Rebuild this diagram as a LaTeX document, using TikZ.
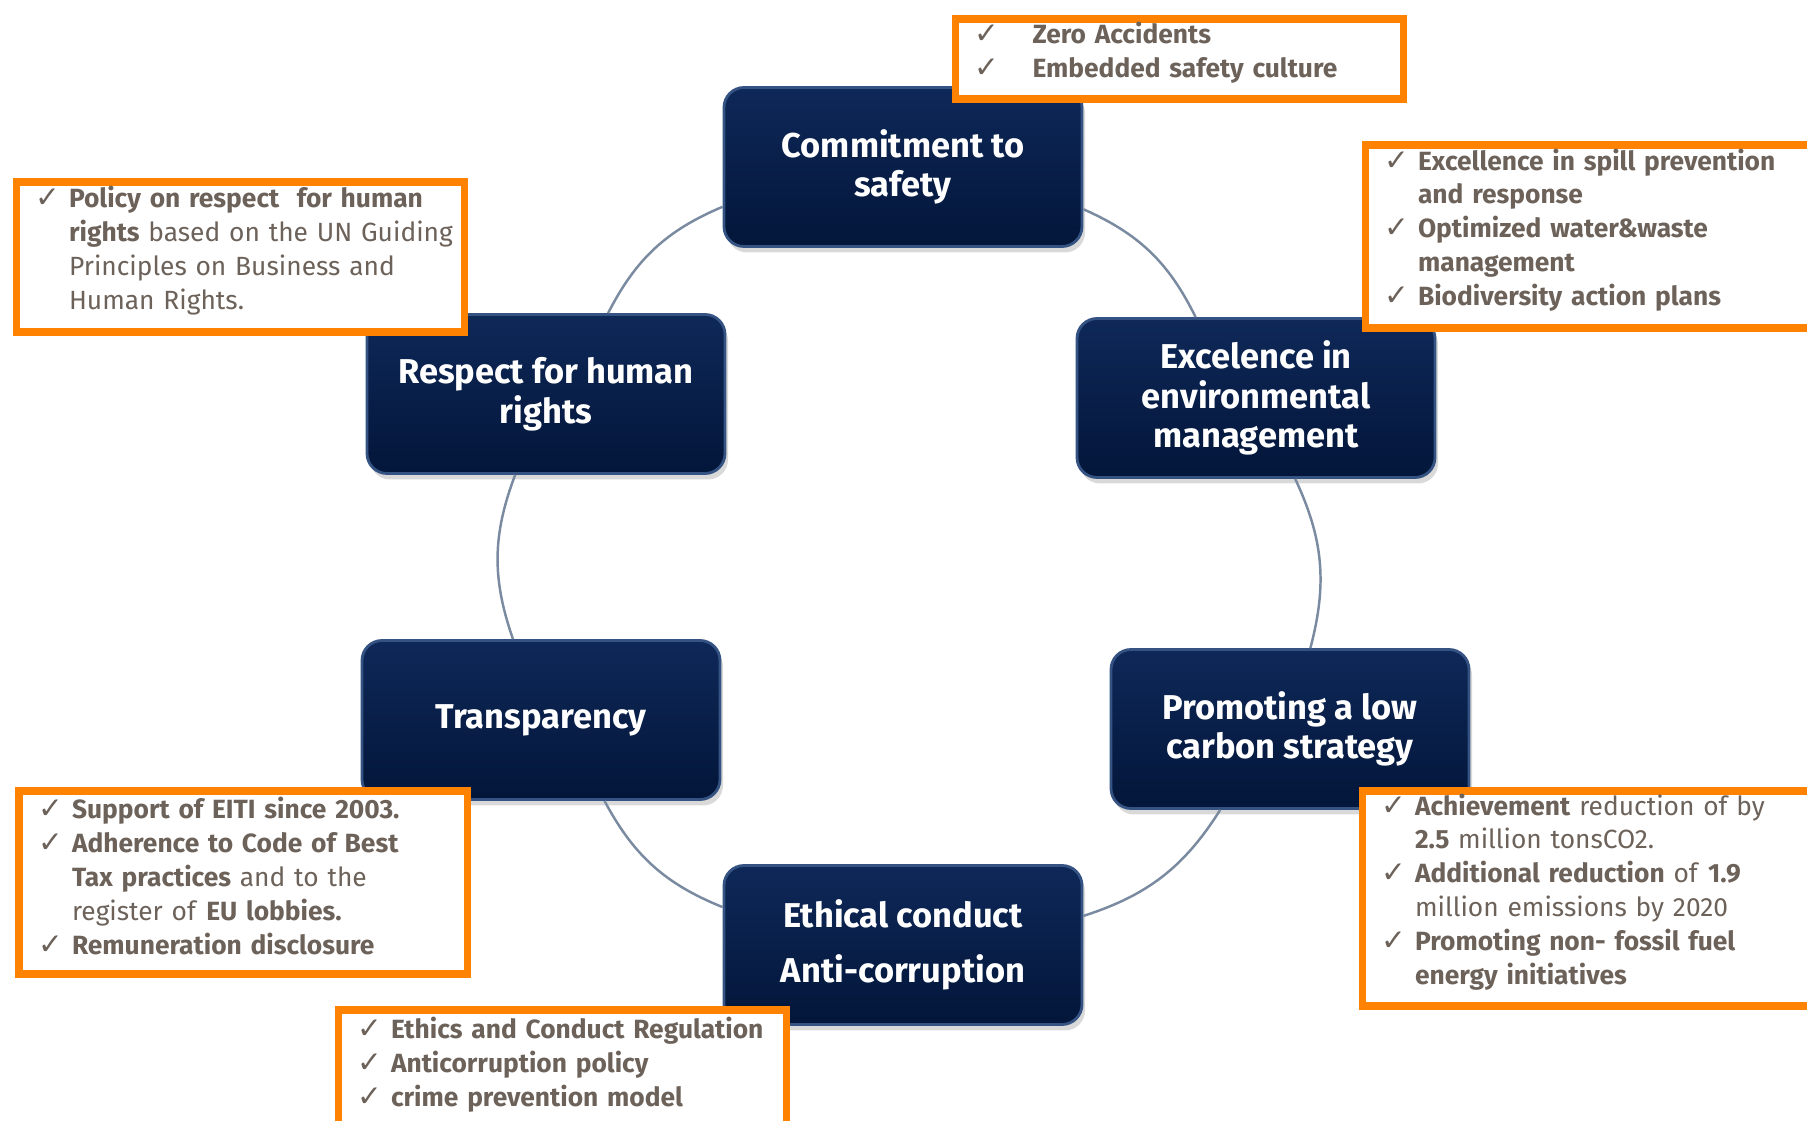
\documentclass[tikz,border=0pt]{standalone}
\usepackage{fontspec}
\setmainfont{Fira Sans}
\newfontfamily\checkfont{DejaVu Sans}
\usetikzlibrary{shadows}

\definecolor{pillarnavy}{RGB}{3,22,58}
\definecolor{pillartop}{RGB}{14,40,88}
\definecolor{pillaredge}{RGB}{52,82,130}
\definecolor{ringgray}{RGB}{122,138,160}
\definecolor{noteorange}{RGB}{255,130,0}
\definecolor{notetext}{RGB}{108,98,90}

% one line of a note, with or without a tick in front
\newcommand{\tickline}[2][0.335cm]{\noindent\mbox{\makebox[#1][l]{\checkfont\fontsize{8.4}{9.64}\selectfont ✓}#2}\par}
\newcommand{\moreline}[2][0.335cm]{\noindent\mbox{\hspace*{#1}#2}\par}

\tikzset{
  pillar/.style={rectangle, rounded corners=0.2cm, minimum width=3.58cm, minimum height=1.59cm,
    top color=pillartop, bottom color=pillarnavy, draw=pillaredge, line width=0.8pt,
    text=white, align=center, font=\fontsize{9.8}{11.3}\selectfont\bfseries,
    drop shadow={opacity=0.3, shadow xshift=0.03cm, shadow yshift=-0.06cm}},
  notes/.style={rectangle, draw=noteorange, line width=2pt, fill=white, anchor=north west,
    text width=4.09cm, inner xsep=0.195cm, inner ysep=0pt,
    text=notetext, font=\fontsize{7.5}{9.64}\selectfont, align=left,
    execute at end node={\vspace{0.13cm}}},
  ring/.style={ringgray, line width=0.7pt, bend left=20}
}

\begin{document}
\begin{tikzpicture}
\useasboundingbox (0,0) rectangle (18.07,-11.21);
% the six pillars
\node[pillar] (safety) at (9.03,-1.67) {Commitment to\\safety};
\node[pillar] (environment) at (12.56,-3.98) {Excelence in\\environmental\\management};
\node[pillar] (carbon) at (12.90,-7.29) {Promoting a low\\carbon strategy};
\node[pillar] (ethics) at (9.03,-9.45) {Ethical conduct\\[0.16cm]Anti-corruption};
\node[pillar] (transparency) at (5.41,-7.20) {Transparency};
\node[pillar] (rights) at (5.46,-3.94) {Respect for human\\rights};
% ring
\draw[ring] (safety) to (environment);
\draw[ring] (environment) to (carbon);
\draw[ring] (carbon) to (ethics);
\draw[ring] (ethics) to (transparency);
\draw[ring] (transparency) to (rights);
\draw[ring] (rights) to (safety);
% notes
\node[notes, minimum height=0.80cm] (safetynotes) at (9.515,-0.155) {%
  \tickline[0.58cm]{\textbf{Zero Accidents}}
  \tickline[0.58cm]{\textbf{Embedded safety culture}}};
\node[notes, minimum height=1.83cm] (envnotes) at (13.615,-1.415) {%
  \tickline{\textbf{Excellence in spill prevention}}
  \moreline{\textbf{and response}}
  \tickline{\textbf{Optimized water\&waste}}
  \moreline{\textbf{management}}
  \tickline{\textbf{Biodiversity action plans}}};
\node[notes, minimum height=1.50cm] (rightsnotes) at (0.125,-1.785) {%
  \tickline{\textbf{Policy on respect\ \ for human}}
  \moreline{\textbf{rights} based on the UN Guiding}
  \moreline{Principles on Business and}
  \moreline{Human Rights.}};
\node[notes, minimum height=1.83cm] (transpnotes) at (0.155,-7.875) {%
  \tickline{\textbf{Support of EITI since 2003.}}
  \tickline{\textbf{Adherence to Code of Best}}
  \moreline{\textbf{Tax practices} and to the}
  \moreline{register of \textbf{EU lobbies.}}
  \tickline{\textbf{Remuneration disclosure}}};
\node[notes, minimum height=1.22cm] (ethicsnotes) at (3.345,-10.065) {%
  \tickline{\textbf{Ethics and Conduct Regulation}}
  \tickline{\textbf{Anticorruption policy}}
  \tickline{\textbf{crime prevention model}}};
\node[notes, minimum height=2.15cm] (carbonnotes) at (13.585,-7.875) {%
  \tickline{\textbf{Achievement} reduction of by}
  \moreline{\textbf{2.5} million tonsCO2.}
  \tickline{\textbf{Additional reduction} of \textbf{1.9}}
  \moreline{million emissions by 2020}
  \tickline{\textbf{Promoting non- fossil fuel}}
  \moreline{\textbf{energy initiatives}}};
\end{tikzpicture}
\end{document}
